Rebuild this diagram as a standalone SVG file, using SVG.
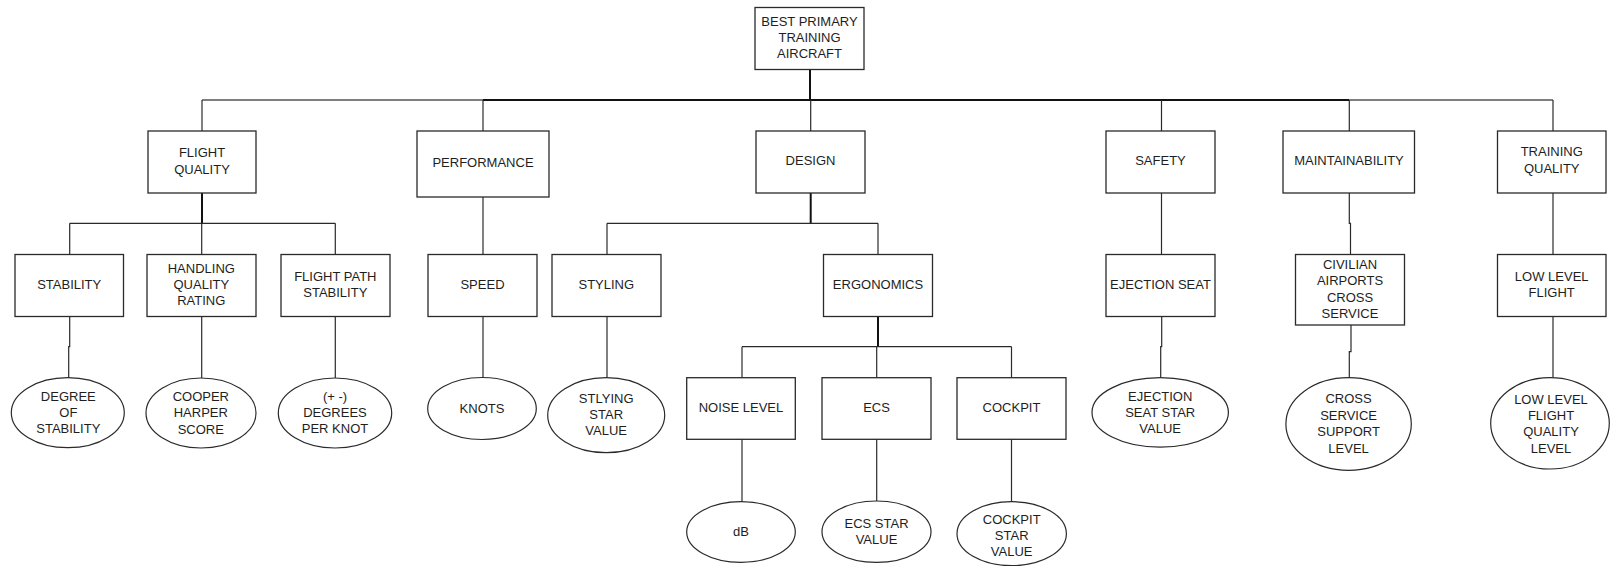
<svg xmlns="http://www.w3.org/2000/svg" width="1610" height="566" viewBox="0 0 1610 566">
  <style>
    .box { fill: #ffffff; stroke: #2a2a2a; stroke-width: 1.3; }
    .oval { fill: #ffffff; stroke: #2a2a2a; stroke-width: 1.2; }
    .wire { fill: none; stroke: #2a2a2a; stroke-width: 1.2; }
    .wire-heavy { fill: none; stroke: #111111; stroke-width: 2; }
    .wire-light { fill: none; stroke: #555555; stroke-width: 1.3; }
    text { font-family: "Liberation Sans", Arial, sans-serif; font-size: 13px; fill: #1e1e1e; text-anchor: middle; }
  </style>
  <rect width="1610" height="566" fill="#ffffff"/>

  <!-- connectors -->
  <g id="connectors">
    <!-- root to top bus -->
    <line class="wire-heavy" x1="810" y1="69.5" x2="810" y2="100"/>
    <!-- top bus -->
    <line class="wire-light" x1="202" y1="100" x2="483" y2="100"/>
    <line class="wire-heavy" x1="483" y1="100" x2="1349.3" y2="100"/>
    <line class="wire-light" x1="1349.3" y1="100" x2="1553" y2="100"/>
    <!-- drops to second level -->
    <line class="wire" x1="202" y1="100" x2="202" y2="131"/>
    <line class="wire" x1="483" y1="100" x2="483" y2="131"/>
    <line class="wire" x1="810.7" y1="100" x2="810.7" y2="131"/>
    <line class="wire" x1="1161.5" y1="100" x2="1161.5" y2="131"/>
    <line class="wire" x1="1349.3" y1="100" x2="1349.3" y2="131"/>
    <line class="wire" x1="1553" y1="100" x2="1553" y2="131"/>

    <!-- flight quality branch -->
    <line class="wire-heavy" x1="202" y1="193" x2="202" y2="223.3"/>
    <line class="wire" x1="69.7" y1="223.3" x2="335.3" y2="223.3"/>
    <line class="wire" x1="69.7" y1="223.3" x2="69.7" y2="254.5"/>
    <line class="wire" x1="201.7" y1="223.3" x2="201.7" y2="254.5"/>
    <line class="wire" x1="335.3" y1="223.3" x2="335.3" y2="254.5"/>
    <polyline class="wire" points="69.7,316.5 69.7,346.7 68.7,346.7 68.7,377.7"/>
    <line class="wire" x1="201.7" y1="316.5" x2="201.7" y2="378"/>
    <line class="wire" x1="335.3" y1="316.5" x2="335.3" y2="378"/>

    <!-- performance branch -->
    <line class="wire" x1="483" y1="197" x2="483" y2="254.5"/>
    <line class="wire" x1="483" y1="316.5" x2="483" y2="377.7"/>

    <!-- design branch -->
    <line class="wire-heavy" x1="810.7" y1="193" x2="810.7" y2="223.3"/>
    <line class="wire" x1="607" y1="223.3" x2="878" y2="223.3"/>
    <line class="wire" x1="607" y1="223.3" x2="607" y2="254.5"/>
    <line class="wire" x1="878" y1="223.3" x2="878" y2="254.5"/>
    <line class="wire" x1="607" y1="316.5" x2="607" y2="377.7"/>
    <line class="wire-heavy" x1="878" y1="316.5" x2="878" y2="346.7"/>
    <line class="wire" x1="742" y1="346.7" x2="1011.5" y2="346.7"/>
    <line class="wire" x1="742" y1="346.7" x2="742" y2="377.7"/>
    <line class="wire" x1="876.7" y1="346.7" x2="876.7" y2="377.7"/>
    <line class="wire" x1="1011.5" y1="346.7" x2="1011.5" y2="377.7"/>
    <line class="wire" x1="742" y1="439.3" x2="742" y2="501.7"/>
    <line class="wire" x1="876.7" y1="439.3" x2="876.7" y2="501"/>
    <line class="wire" x1="1011.5" y1="439.3" x2="1011.5" y2="501.7"/>

    <!-- safety branch -->
    <line class="wire" x1="1161.5" y1="193" x2="1161.5" y2="254.5"/>
    <polyline class="wire" points="1161.7,316.5 1161.7,346.7 1160.7,346.7 1160.7,377.7"/>

    <!-- maintainability branch -->
    <polyline class="wire" points="1349.3,193 1349.3,223.3 1350.5,223.3 1350.5,254.5"/>
    <polyline class="wire" points="1351,325 1351,351.7 1349.3,351.7 1349.3,377.7"/>

    <!-- training quality branch -->
    <line class="wire" x1="1553" y1="193" x2="1553" y2="254.5"/>
    <line class="wire" x1="1553" y1="316.5" x2="1553" y2="377.7"/>
  </g>

  <!-- top node -->
  <g id="node-root">
    <rect class="box" x="755" y="7.5" width="109" height="62"/>
    <text x="809.5" y="26">BEST PRIMARY</text>
    <text x="809.5" y="42">TRAINING</text>
    <text x="809.5" y="58">AIRCRAFT</text>
  </g>

  <!-- second level -->
  <g id="node-flight-quality">
    <rect class="box" x="148" y="131" width="108" height="62"/>
    <text x="202" y="156.7">FLIGHT</text>
    <text x="202" y="174">QUALITY</text>
  </g>
  <g id="node-performance">
    <rect class="box" x="417" y="131" width="132" height="66"/>
    <text x="483" y="167">PERFORMANCE</text>
  </g>
  <g id="node-design">
    <rect class="box" x="756" y="131" width="109" height="62"/>
    <text x="810.5" y="165">DESIGN</text>
  </g>
  <g id="node-safety">
    <rect class="box" x="1106" y="131" width="109" height="62"/>
    <text x="1160.5" y="165">SAFETY</text>
  </g>
  <g id="node-maintainability">
    <rect class="box" x="1283" y="131" width="131.5" height="62"/>
    <text x="1349" y="165">MAINTAINABILITY</text>
  </g>
  <g id="node-training-quality">
    <rect class="box" x="1497.5" y="131" width="108.5" height="62"/>
    <text x="1551.7" y="156">TRAINING</text>
    <text x="1551.7" y="173.3">QUALITY</text>
  </g>

  <!-- third level -->
  <g id="node-stability">
    <rect class="box" x="15" y="254.5" width="108.5" height="62"/>
    <text x="69.2" y="289">STABILITY</text>
  </g>
  <g id="node-handling">
    <rect class="box" x="147" y="254.5" width="109" height="62"/>
    <text x="201.3" y="272.7">HANDLING</text>
    <text x="201.3" y="288.7">QUALITY</text>
    <text x="201.3" y="305">RATING</text>
  </g>
  <g id="node-flight-path">
    <rect class="box" x="281" y="254.5" width="109" height="62"/>
    <text x="335.3" y="280.7">FLIGHT PATH</text>
    <text x="335.3" y="296.7">STABILITY</text>
  </g>
  <g id="node-speed">
    <rect class="box" x="428" y="254.5" width="109" height="62"/>
    <text x="482.5" y="289">SPEED</text>
  </g>
  <g id="node-styling">
    <rect class="box" x="552" y="254.5" width="109" height="62"/>
    <text x="606.3" y="288.7">STYLING</text>
  </g>
  <g id="node-ergonomics">
    <rect class="box" x="823.5" y="254.5" width="109" height="62"/>
    <text x="878" y="288.7">ERGONOMICS</text>
  </g>
  <g id="node-ejection-seat">
    <rect class="box" x="1106" y="254.5" width="109" height="62"/>
    <text x="1160.5" y="289">EJECTION SEAT</text>
  </g>
  <g id="node-civilian">
    <rect class="box" x="1295.5" y="254.5" width="109" height="70.5"/>
    <text x="1350" y="269">CIVILIAN</text>
    <text x="1350" y="285">AIRPORTS</text>
    <text x="1350" y="301.7">CROSS</text>
    <text x="1350" y="317.7">SERVICE</text>
  </g>
  <g id="node-low-level">
    <rect class="box" x="1497.5" y="254.5" width="108.5" height="62"/>
    <text x="1551.7" y="280.7">LOW LEVEL</text>
    <text x="1551.7" y="296.7">FLIGHT</text>
  </g>

  <!-- measures -->
  <g id="node-degree-of-stability">
    <ellipse class="oval" cx="67.8" cy="412.7" rx="56.5" ry="35"/>
    <text x="68.3" y="400.7">DEGREE</text>
    <text x="68.3" y="416.7">OF</text>
    <text x="68.3" y="433.3">STABILITY</text>
  </g>
  <g id="node-cooper-harper">
    <ellipse class="oval" cx="201" cy="413" rx="55" ry="35"/>
    <text x="200.8" y="400.7">COOPER</text>
    <text x="200.8" y="416.7">HARPER</text>
    <text x="200.8" y="433.6">SCORE</text>
  </g>
  <g id="node-degrees-per-knot">
    <ellipse class="oval" cx="335" cy="413" rx="56.7" ry="35"/>
    <text x="335" y="400.7">(+ -)</text>
    <text x="335" y="416.7">DEGREES</text>
    <text x="335" y="433.3">PER KNOT</text>
  </g>
  <g id="node-knots">
    <ellipse class="oval" cx="482" cy="408.5" rx="54.3" ry="31"/>
    <text x="482" y="413.3">KNOTS</text>
  </g>
  <g id="node-styling-star">
    <ellipse class="oval" cx="606.2" cy="415.2" rx="58.5" ry="37.5"/>
    <text x="606.2" y="402.7">STLYING</text>
    <text x="606.2" y="418.7">STAR</text>
    <text x="606.2" y="434.7">VALUE</text>
  </g>
  <g id="node-ejection-star">
    <ellipse class="oval" cx="1160.2" cy="412.4" rx="68.2" ry="34.7"/>
    <text x="1160.2" y="400.7">EJECTION</text>
    <text x="1160.2" y="416.7">SEAT STAR</text>
    <text x="1160.2" y="433.3">VALUE</text>
  </g>
  <g id="node-cross-service">
    <ellipse class="oval" cx="1348.6" cy="424" rx="62.7" ry="46.3"/>
    <text x="1348.6" y="403.3">CROSS</text>
    <text x="1348.6" y="420">SERVICE</text>
    <text x="1348.6" y="436.3">SUPPORT</text>
    <text x="1348.6" y="452.7">LEVEL</text>
  </g>
  <g id="node-low-level-quality">
    <ellipse class="oval" cx="1550" cy="423.3" rx="59.3" ry="45.7"/>
    <text x="1551" y="403.7">LOW LEVEL</text>
    <text x="1551" y="419.7">FLIGHT</text>
    <text x="1551" y="435.7">QUALITY</text>
    <text x="1551" y="452.7">LEVEL</text>
  </g>

  <!-- ergonomics sub-items -->
  <g id="node-noise-level">
    <rect class="box" x="686.7" y="377.7" width="108.6" height="61.6"/>
    <text x="741" y="412">NOISE LEVEL</text>
  </g>
  <g id="node-ecs">
    <rect class="box" x="822" y="377.7" width="109" height="61.6"/>
    <text x="876.5" y="412">ECS</text>
  </g>
  <g id="node-cockpit">
    <rect class="box" x="957" y="377.7" width="109" height="61.6"/>
    <text x="1011.5" y="412">COCKPIT</text>
  </g>
  <g id="node-db">
    <ellipse class="oval" cx="741" cy="532" rx="54.3" ry="30.3"/>
    <text x="741" y="536">dB</text>
  </g>
  <g id="node-ecs-star">
    <ellipse class="oval" cx="876.5" cy="531.7" rx="54.5" ry="30.7"/>
    <text x="876.5" y="527.7">ECS STAR</text>
    <text x="876.5" y="543.7">VALUE</text>
  </g>
  <g id="node-cockpit-star">
    <ellipse class="oval" cx="1011.7" cy="533.7" rx="54.7" ry="32"/>
    <text x="1011.7" y="524">COCKPIT</text>
    <text x="1011.7" y="540">STAR</text>
    <text x="1011.7" y="556.3">VALUE</text>
  </g>
</svg>
